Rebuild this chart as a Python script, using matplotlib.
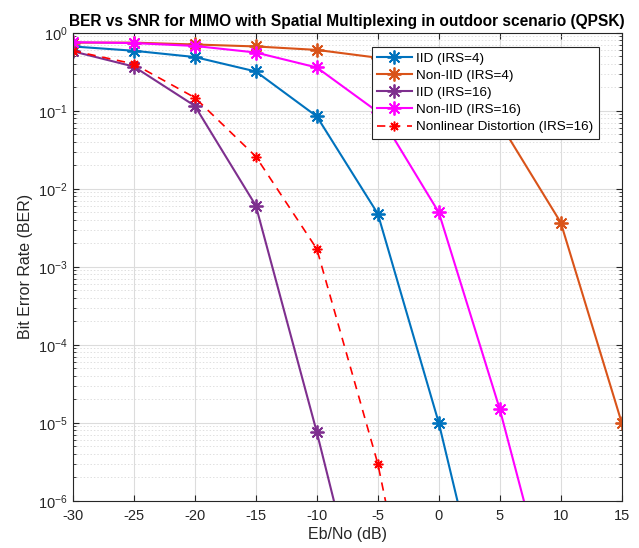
import matplotlib
matplotlib.use('Agg')
import matplotlib.pyplot as plt
import numpy as np

plt.rcParams['font.family'] = ['Liberation Sans', 'DejaVu Sans']
plt.rcParams['mathtext.fontset'] = 'custom'
plt.rcParams['mathtext.rm'] = 'Liberation Sans'
plt.rcParams['mathtext.it'] = 'Liberation Sans'
plt.rcParams['axes.unicode_minus'] = False

snr = [-30, -25, -20, -15, -10, -5, 0, 5, 10, 15]

ber_iid_4 = [0.67, 0.59, 0.49, 0.32, 0.085, 0.0048, 1e-5, 5.4e-9]
ber_noniid_4 = [0.75, 0.75, 0.71, 0.67, 0.605, 0.48, 0.29, 0.07, 0.0037, 1e-5]
ber_iid_16 = [0.58, 0.37, 0.116, 0.0061, 7.6e-6, 5.5e-9]
ber_noniid_16 = [0.76, 0.74, 0.68, 0.56, 0.36, 0.097, 0.005, 1.5e-5, 1.6e-8]
ber_nonlin_16 = [0.59, 0.40, 0.148, 0.026, 0.0017, 3.0e-6, 5e-10]

labels = ['IID (IRS=4)', 'Non-IID (IRS=4)', 'IID (IRS=16)', 'Non-IID (IRS=16)',
          'Nonlinear Distortion (IRS=16)']

fig = plt.figure(figsize=(6.39, 5.48), dpi=100)
ax = fig.add_axes([0.114, 0.086, 0.859, 0.854])

ast = (8, 2, 0)  # MATLAB-style asterisk
ax.semilogy(snr[:len(ber_iid_4)], ber_iid_4, '-', color='#0072BD', lw=1.5,
            marker=ast, ms=10, mew=1.3, label=labels[0])
ax.semilogy(snr[:len(ber_noniid_4)], ber_noniid_4, '-', color='#D95319', lw=1.5,
            marker=ast, ms=10, mew=1.3, label=labels[1])
ax.semilogy(snr[:len(ber_iid_16)], ber_iid_16, '-', color='#7E2F8E', lw=1.5,
            marker=ast, ms=10, mew=1.3, label=labels[2])
ax.semilogy(snr[:len(ber_noniid_16)], ber_noniid_16, '-', color='#FF00FF', lw=1.5,
            marker=ast, ms=10, mew=1.3, label=labels[3])
ax.semilogy(snr[:len(ber_nonlin_16)], ber_nonlin_16, '--', color='#FF0000', lw=1.2,
            marker=ast, ms=7, mew=1.1, dashes=(5, 4), label=labels[4])

ax.set_xlim(-30, 15)
ax.set_ylim(1e-6, 1)
ax.set_xticks(np.arange(-30, 16, 5))

ax.grid(True, which='major', color='#dcdcdc', lw=0.8)
ax.grid(True, which='minor', axis='y', color='#e0e0e0', lw=0.7, ls=(0, (1.5, 2)))
ax.set_axisbelow(True)

ax.tick_params(which='both', direction='in', top=True, right=True, labelsize=10.5, colors='#262626')
ax.tick_params(axis='x', pad=6)
ax.tick_params(which='major', length=4)
ax.tick_params(which='minor', length=2)
for s in ax.spines.values():
    s.set_color('#262626')
    s.set_linewidth(0.8)

ax.set_xlabel('Eb/No (dB)', fontsize=11.5, color='#262626', labelpad=3)
ax.set_ylabel('Bit Error Rate (BER)', fontsize=11.5, color='#262626')
ax.set_title('BER vs SNR for MIMO with Spatial Multiplexing in outdoor scenario (QPSK)',
             fontsize=11.2, fontweight='bold', pad=5)

leg = ax.legend(loc='upper right', bbox_to_anchor=(0.958, 0.970), borderaxespad=0,
                fontsize=9.7, fancybox=False, framealpha=1, edgecolor='#262626',
                handlelength=2.6, labelspacing=0.35, borderpad=0.4, handletextpad=0.3)
leg.get_frame().set_linewidth(0.8)

plt.savefig('out.png', dpi=100)
